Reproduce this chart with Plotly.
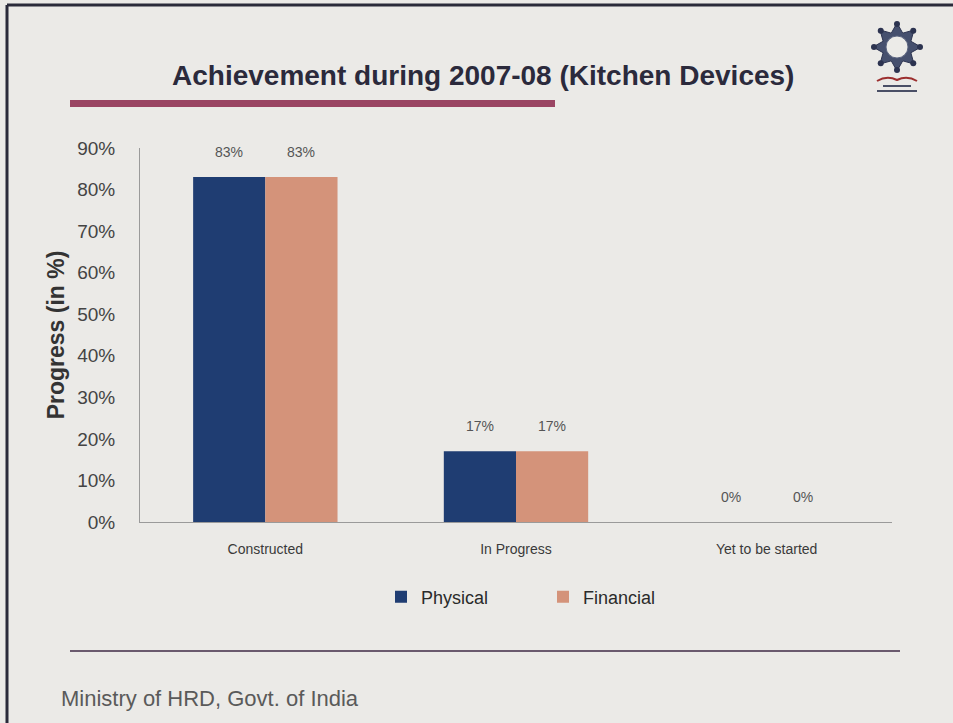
import math
import plotly.graph_objects as go

# Chart data
categories = ["Constructed", "In Progress", "Yet to be started"]
physical = [0.83, 0.17, 0.00]
financial = [0.83, 0.17, 0.00]
series_names = ["Physical", "Financial"]
series_colors = ["#1f3d72", "#d4937a"]
y_ticks = [0.0, 0.1, 0.2, 0.3, 0.4, 0.5, 0.6, 0.7, 0.8, 0.9]

W, H = 953, 723
M_L, M_R, M_T, M_B = 140, 61, 148, 201
PW, PH = W - M_L - M_R, H - M_T - M_B


def px(x):
    """pixel x -> paper x"""
    return (x - M_L) / PW


def py(y):
    """pixel y (from top) -> paper y"""
    return (H - M_B - y) / PH


fig = go.Figure()
for name, vals, col in zip(series_names, [physical, financial], series_colors):
    fig.add_trace(go.Bar(
        x=categories, y=vals, name=name,
        marker=dict(color=col, line=dict(width=0)),
        hoverinfo="skip",
    ))

# value labels floating above each bar
bar_px = PW / len(categories) * (1 - 0.424) / 2
annotations = []
for i, vals in enumerate([physical, financial]):
    shift = (i - 0.5) * bar_px
    for c, v in zip(categories, vals):
        annotations.append(dict(
            x=c, y=v, xref="x", yref="y", text=f"{v:.0%}", showarrow=False,
            xshift=shift, yshift=25, yanchor="middle",
            font=dict(size=14, color="#555555", family="Liberation Sans, Arial"),
        ))

# slide title
annotations.append(dict(
    x=px(483), y=py(75), xref="paper", yref="paper",
    text="<b>Achievement during 2007-08 (Kitchen Devices)</b>",
    showarrow=False, xanchor="center", yanchor="middle",
    font=dict(size=28, color="#2b2a3c", family="Liberation Sans, Arial"),
))
# footer
annotations.append(dict(
    x=px(59), y=py(698), xref="paper", yref="paper",
    text="Ministry of HRD, Govt. of India", showarrow=False,
    xanchor="left", yanchor="middle",
    font=dict(size=22, color="#5a5a5a", family="Liberation Sans, Arial"),
))

shapes = []
# slide border (top and left)
shapes.append(dict(type="line", xref="paper", yref="paper",
                   x0=px(7), x1=px(953), y0=py(5), y1=py(5),
                   line=dict(color="#2a2a3a", width=3)))
shapes.append(dict(type="line", xref="paper", yref="paper",
                   x0=px(7), x1=px(7), y0=py(5), y1=py(723),
                   line=dict(color="#2a2a3a", width=3)))
# accent bar under the title
shapes.append(dict(type="rect", xref="paper", yref="paper",
                   x0=px(70), x1=px(555), y0=py(107), y1=py(100),
                   fillcolor="#9a4563", line=dict(width=0)))
# footer rule
shapes.append(dict(type="line", xref="paper", yref="paper",
                   x0=px(70), x1=px(900), y0=py(651), y1=py(651),
                   line=dict(color="#6a5a6e", width=2)))

# logo: eight-pointed star ring
cx, cy = 897, 47
pts = []
for k in range(16):
    ang = math.pi / 2 + k * math.pi / 8
    r = 24 if k % 2 == 0 else 15
    pts.append((cx + r * math.cos(ang), cy - r * math.sin(ang)))
path = "M " + " L ".join(f"{px(x):.5f},{py(y):.5f}" for x, y in pts) + " Z"
shapes.append(dict(type="path", xref="paper", yref="paper", path=path,
                   fillcolor="#46506e", line=dict(color="#2c3350", width=1)))
shapes.append(dict(type="circle", xref="paper", yref="paper",
                   x0=px(cx - 11), x1=px(cx + 11), y0=py(cy + 11), y1=py(cy - 11),
                   fillcolor="#ecebe8", line=dict(color="#5b6480", width=1)))
for k in range(8):
    ang = math.pi / 2 + k * math.pi / 4
    x, y = cx + 23 * math.cos(ang), cy - 23 * math.sin(ang)
    shapes.append(dict(type="circle", xref="paper", yref="paper",
                       x0=px(x - 3), x1=px(x + 3), y0=py(y + 3), y1=py(y - 3),
                       fillcolor="#2c3350", line=dict(width=0)))
# open-book arc
arc = (f"M {px(877):.5f},{py(81):.5f} Q {px(887):.5f},{py(75):.5f} {px(897):.5f},{py(80):.5f} "
       f"Q {px(907):.5f},{py(75):.5f} {px(917):.5f},{py(81):.5f}")
shapes.append(dict(type="path", xref="paper", yref="paper", path=arc,
                   line=dict(color="#9c2f2f", width=2)))
for y0, x0, x1 in [(86, 883, 911), (91, 877, 917)]:
    shapes.append(dict(type="line", xref="paper", yref="paper",
                       x0=px(x0), x1=px(x1), y0=py(y0), y1=py(y0),
                       line=dict(color="#4a4f66", width=2)))

fig.update_layout(
    width=W, height=H,
    margin=dict(l=M_L, r=M_R, t=M_T, b=M_B),
    paper_bgcolor="#ebeae7",
    plot_bgcolor="rgba(0,0,0,0)",
    barmode="group", bargap=0.424, bargroupgap=0,
    font=dict(family="Liberation Sans, Arial", color="#333333"),
    showlegend=True,
    legend=dict(orientation="h", x=px(543), y=py(597), xanchor="center", yanchor="middle",
                font=dict(size=18, color="#2a2a2a"), entrywidth=117,
                bgcolor="rgba(0,0,0,0)", itemclick=False, itemdoubleclick=False),
    annotations=annotations,
    shapes=shapes,
    hovermode=False,
)
fig.update_yaxes(
    range=[0, 0.9], tickvals=y_ticks, tickformat=".0%",
    showgrid=False, zeroline=False,
    showline=True, linecolor="#9a9a9a", linewidth=1,
    ticks="", ticklabelstandoff=20,
    tickfont=dict(size=19, color="#444444"),
    title=dict(text="<b>Progress (in %)</b>", standoff=6,
               font=dict(size=23, color="#333333")),
)
fig.update_xaxes(
    showgrid=False, showline=True, linecolor="#9a9a9a", linewidth=1,
    ticks="", ticklabelstandoff=14,
    tickfont=dict(size=14, color="#3a3a3a"),
)

fig.write_html("out.html")
